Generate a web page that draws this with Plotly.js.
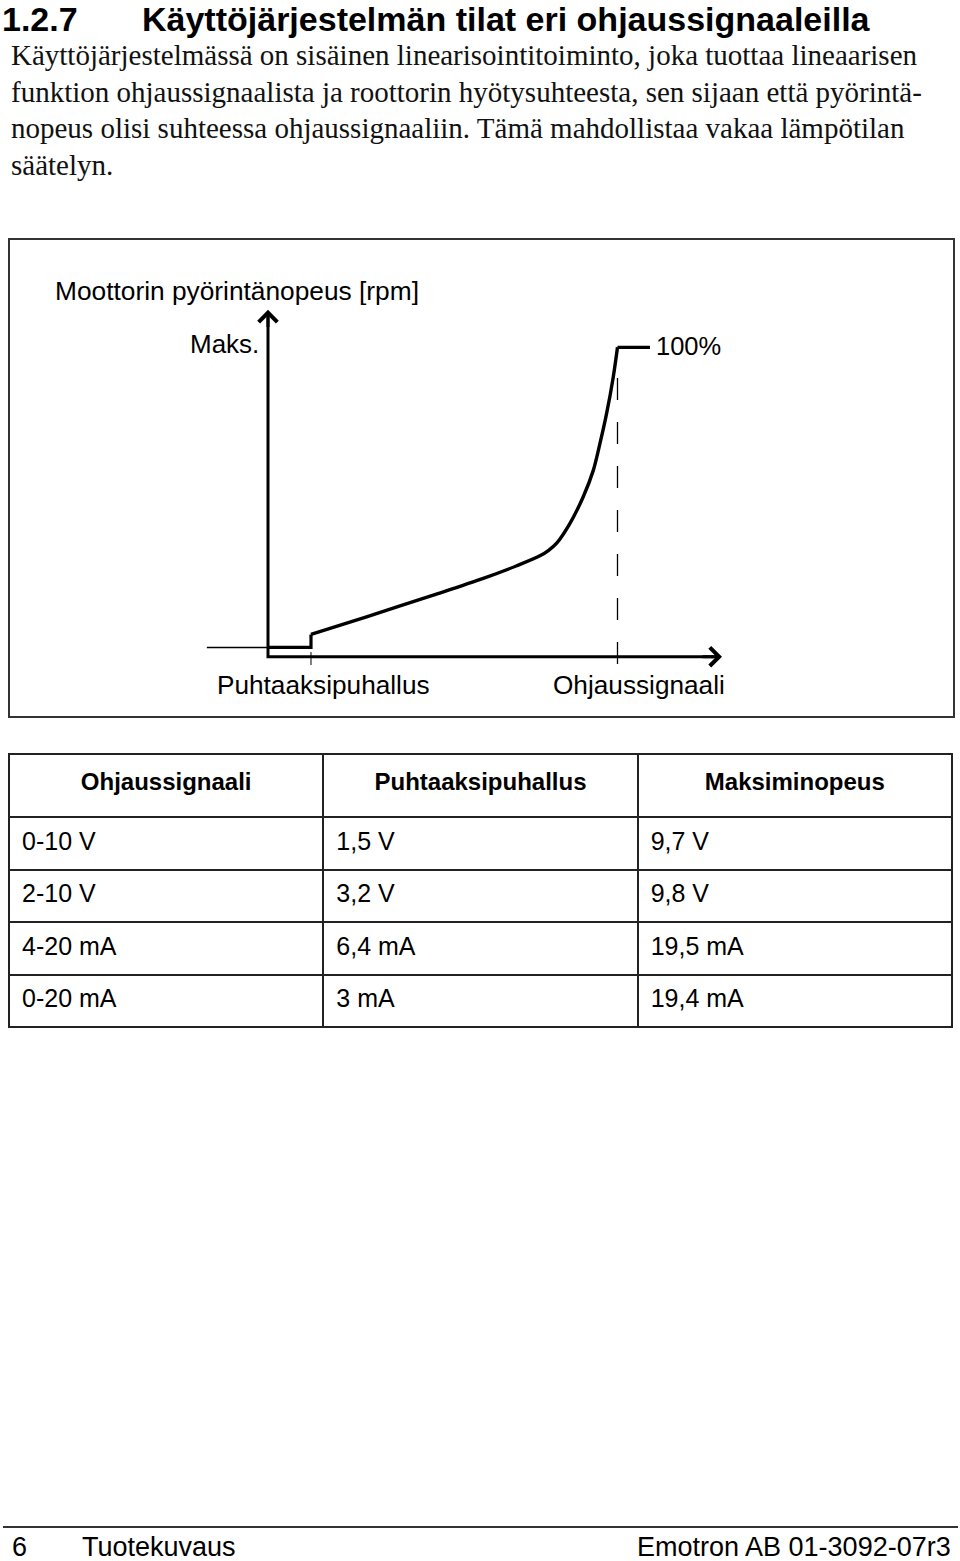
<!DOCTYPE html>
<html>
<head>
<meta charset="utf-8">
<script src="https://cdn.plot.ly/plotly-3.0.1.min.js"></script>
<style>
html,body{margin:0;padding:0;background:#fff;}
#page{width:960px;height:1561px;}
</style>
</head>
<body>
<div id="page"></div>
<script>
// ---------- data ----------
const headingNumber = '1.2.7';
const headingText = 'Käyttöjärjestelmän tilat eri ohjaussignaaleilla';
const bodyLines = [
  'Käyttöjärjestelmässä on sisäinen linearisointitoiminto, joka tuottaa lineaarisen',
  'funktion ohjaussignaalista ja roottorin hyötysuhteesta, sen sijaan että pyörintä-',
  'nopeus olisi suhteessa ohjaussignaaliin. Tämä mahdollistaa vakaa lämpötilan',
  'säätelyn.'
];
const yAxisTitle = 'Moottorin pyörintänopeus [rpm]';
const maxLabel = 'Maks.';
const fullLabel = '100%';

// speed curve (signal %, speed % of max)
const signalBelow = [-17.5, 0];
const speedBelow = [3, 3];
const signalStep = [0, 12.3, 12.3];
const speedStep  = [3, 3, 7.2];
const signalCurve = [12.3, 28.2, 47.3, 61.6, 71.2, 77.8, 80.3, 82.6, 86.4, 90.2, 93.1, 95.0, 96.9, 98.8, 100];
const speedCurve  = [7.2, 12.9, 19.9, 25.3, 29.4, 32.6, 34.4, 36.7, 43.1, 51.7, 60.3, 69.0, 78.7, 90.5, 100];
const signalTop = [100, 109.3];
const speedTop  = [100, 100];

const tickSignals = [12.3, 100];
const tickLabels = ['Puhtaaksipuhallus', 'Ohjaussignaali'];
const axisMaxSignal = 129.9;
const axisMaxSpeed = 112.1;

const tableHeaders = ['Ohjaussignaali', 'Puhtaaksipuhallus', 'Maksiminopeus'];
const signalRanges = ['0-10 V', '2-10 V', '4-20 mA', '0-20 mA'];
const purgeLevels  = ['1,5 V', '3,2 V', '6,4 mA', '3 mA'];
const maxLevels    = ['9,7 V', '9,8 V', '19,5 mA', '19,4 mA'];

const footerPage = '6';
const footerSection = 'Tuotekuvaus';
const footerDoc = 'Emotron AB 01-3092-07r3';

// ---------- layout helpers ----------
const W = 960, H = 1561;
const px = v => v / W;            // pixel x -> paper
const py = v => 1 - v / H;        // pixel y -> paper
// diagram scale: origin at pixel (268, 656.7); 100% at (617.5, 347.3)
const X0 = 268, Y0 = 656.7, SX = 3.495, SY = 3.094;

const sans = 'Liberation Sans, Arial, sans-serif';
const narrow = 'Liberation Sans Narrow, Liberation Sans, Arial Narrow, sans-serif';
const serif = 'Liberation Serif, Times New Roman, serif';

const traces = [
  { x: signalBelow, y: speedBelow, mode: 'lines', line: {color: '#000', width: 1.5}, hoverinfo: 'skip' },
  { x: signalStep, y: speedStep, mode: 'lines', line: {color: '#000', width: 3.2}, hoverinfo: 'skip' },
  { x: signalCurve, y: speedCurve, mode: 'lines', line: {color: '#000', width: 3.4, shape: 'spline', smoothing: 0.9}, hoverinfo: 'skip' },
  { x: signalTop, y: speedTop, mode: 'lines', line: {color: '#000', width: 3.2}, hoverinfo: 'skip' },
  // axes
  { x: [0, 0, axisMaxSignal - 1], y: [axisMaxSpeed - 1, 0, 0], mode: 'lines', line: {color: '#000', width: 3}, hoverinfo: 'skip' },
  // dashed guide at 100%
  { x: [tickSignals[1], tickSignals[1]], y: [90.1, -2.7], mode: 'lines', line: {color: '#000', width: 1.3, dash: '22px,22px'}, hoverinfo: 'skip' },
  // tick at purge level
  { x: [tickSignals[0], tickSignals[0]], y: [1.5, -2.7], mode: 'lines', line: {color: '#000', width: 1}, hoverinfo: 'skip' },
  // table
  {
    type: 'table',
    domain: {x: [px(9), px(952)], y: [py(1030), py(754)]},
    columnwidth: [1, 1, 1],
    header: {
      values: tableHeaders,
      align: 'center',
      height: 63,
      line: {color: '#222', width: 2},
      fill: {color: '#fff'},
      font: {family: sans, size: 24, color: '#000', weight: 700}
    },
    cells: {
      values: [signalRanges, purgeLevels, maxLevels],
      align: 'left',
      height: 52.5,
      line: {color: '#222', width: 2},
      fill: {color: '#fff'},
      font: {family: sans, size: 25, color: '#000'}
    }
  }
];

const annotations = [];
annotations.push({xref: 'paper', yref: 'paper', x: px(0), y: py(19), xanchor: 'left', yanchor: 'middle', showarrow: false,
  text: headingNumber, font: {family: narrow, size: 34, color: '#000', weight: 700}});
annotations.push({xref: 'paper', yref: 'paper', x: px(140), y: py(19), xanchor: 'left', yanchor: 'middle', showarrow: false,
  text: headingText, font: {family: narrow, size: 34, color: '#000', weight: 700}});
const bodyBase = [65, 101.7, 138.4, 175];
bodyLines.forEach((t, i) => annotations.push({xref: 'paper', yref: 'paper', x: px(9), y: py(bodyBase[i] - 10), xanchor: 'left', yanchor: 'middle',
  showarrow: false, text: t, font: {family: serif, size: 29, color: '#111'}}));

annotations.push({xref: 'paper', yref: 'paper', x: px(53), y: py(291), xanchor: 'left', yanchor: 'middle', showarrow: false,
  text: yAxisTitle, font: {family: sans, size: 26.3, color: '#000'}});
annotations.push({x: 0, y: 100, xanchor: 'right', yanchor: 'middle', xshift: -7, yshift: 3, showarrow: false,
  text: maxLabel, font: {family: sans, size: 26, color: '#000'}});
annotations.push({x: signalTop[1], y: 100, xanchor: 'left', yanchor: 'middle', xshift: 4, yshift: 1, showarrow: false,
  text: fullLabel, font: {family: sans, size: 25.5, color: '#000'}});
annotations.push({x: tickSignals[0], y: -9.1, xanchor: 'center', yanchor: 'middle', xshift: 13, showarrow: false,
  text: tickLabels[0], font: {family: sans, size: 26.2, color: '#000'}});
annotations.push({x: tickSignals[1], y: -9.1, xanchor: 'center', yanchor: 'middle', xshift: 21, showarrow: false,
  text: tickLabels[1], font: {family: sans, size: 26.2, color: '#000'}});
// arrow heads
annotations.push({x: 0, y: axisMaxSpeed, ax: 0, ay: axisMaxSpeed - 6, axref: 'x', ayref: 'y', text: '', showarrow: true,
  arrowhead: 4, arrowsize: 1.2, arrowwidth: 3, arrowcolor: '#000', standoff: 0});
annotations.push({x: axisMaxSignal, y: 0, ax: axisMaxSignal - 6, ay: 0, axref: 'x', ayref: 'y', text: '', showarrow: true,
  arrowhead: 4, arrowsize: 1.2, arrowwidth: 3, arrowcolor: '#000', standoff: 0});

// footer
const footY = 1547;
annotations.push({xref: 'paper', yref: 'paper', x: px(10), y: py(footY), xanchor: 'left', yanchor: 'middle', showarrow: false,
  text: footerPage, font: {family: narrow, size: 27, color: '#000'}});
annotations.push({xref: 'paper', yref: 'paper', x: px(80), y: py(footY), xanchor: 'left', yanchor: 'middle', showarrow: false,
  text: footerSection, font: {family: narrow, size: 27, color: '#000'}});
annotations.push({xref: 'paper', yref: 'paper', x: px(953), y: py(footY), xanchor: 'right', yanchor: 'middle', showarrow: false,
  text: footerDoc, font: {family: narrow, size: 27, color: '#000'}});

const shapes = [
  {type: 'rect', xref: 'paper', yref: 'paper', x0: px(9), x1: px(954), y0: py(717), y1: py(239), line: {color: '#333', width: 2}},
  {type: 'line', xref: 'paper', yref: 'paper', x0: px(3), x1: px(958), y0: py(1527), y1: py(1527), line: {color: '#333', width: 2}}
];

const layout = {
  width: W, height: H,
  margin: {l: 0, r: 0, t: 0, b: 0, pad: 0},
  paper_bgcolor: '#fff', plot_bgcolor: 'rgba(0,0,0,0)',
  showlegend: false,
  xaxis: {visible: false, range: [-X0 / SX, (W - X0) / SX], domain: [0, 1], fixedrange: true},
  yaxis: {visible: false, range: [(Y0 - H) / SY, Y0 / SY], domain: [0, 1], fixedrange: true},
  annotations: annotations,
  shapes: shapes
};

Plotly.newPlot('page', traces, layout, {staticPlot: true, displayModeBar: false}).then(gd => {
  // vertically centre the table texts a little lower, as in the printed table
  gd.querySelectorAll('.table .cell-text').forEach(el => {
    const isHeader = tableHeaders.indexOf(el.textContent) >= 0;
    const shift = isHeader ? ' translate(0,10)' : ' translate(5,6)';
    el.setAttribute('transform', (el.getAttribute('transform') || '') + shift);
  });
});
</script>
</body>
</html>
